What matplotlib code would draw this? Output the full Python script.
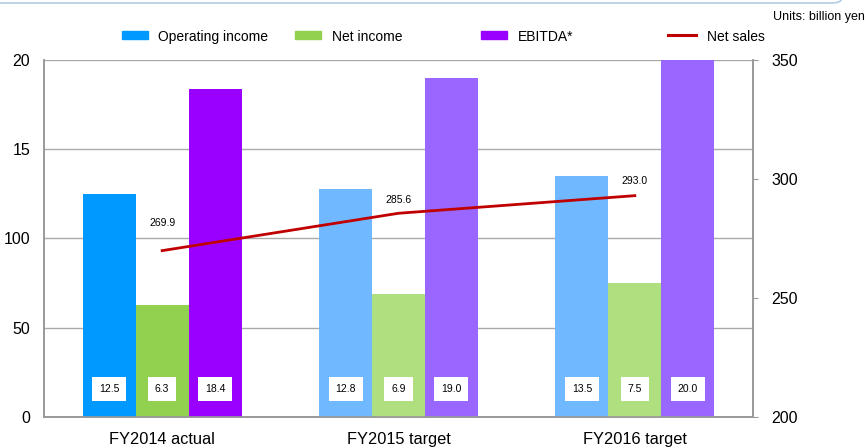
import numpy as np
import matplotlib.pyplot as plt
from matplotlib.patches import Rectangle, FancyBboxPatch
from matplotlib.lines import Line2D

plt.rcParams['font.family'] = ['Liberation Sans', 'DejaVu Sans']

# data
categories = ["FY2014 actual", "FY2015 target", "FY2016 target"]
operating_income = [12.5, 12.8, 13.5]
net_income = [6.3, 6.9, 7.5]
ebitda = [18.4, 19.0, 20.0]
net_sales = [269.9, 285.6, 293.0]
left_ticks = [0, 5, 10, 15, 20]
left_tick_labels = ["0", "50", "100", "15", "20"]
right_ticks = [200, 250, 300, 350]

# actual year is saturated, targets are lighter
op_colors = ["#0099FF", "#70B8FF", "#70B8FF"]
net_colors = ["#92D050", "#B0DF80", "#B0DF80"]
eb_colors = ["#9900FF", "#9966FF", "#9966FF"]
grey = "#999999"

fig = plt.figure(figsize=(8.66, 4.48), dpi=100)

# faint frame edge at the very top of the slide
fig.add_artist(FancyBboxPatch((-20/866, 1 - 3/448), 862/866, 40/448,
                              boxstyle="round,pad=0,rounding_size=0.012", fc='none',
                              ec="#B4CCE4", lw=1.2, transform=fig.transFigure))

ax = fig.add_axes([44/866, 31/448, 709/866, 357/448])
ax2 = ax.twinx()
ax.set_zorder(2)
ax2.set_zorder(1)
ax.patch.set_visible(False)

x = np.arange(len(categories))
w = 0.224

ax.grid(axis='y', color="#aaaaaa", linewidth=1.0, zorder=0)
ax.set_axisbelow(True)

series = [(operating_income, op_colors, -w), (net_income, net_colors, 0), (ebitda, eb_colors, w)]
for vals, cols, off in series:
    ax.bar(x + off, vals, width=w, color=cols, zorder=2)
    for xi, v in zip(x + off, vals):
        ax.text(xi, 1.57, f"{v:.1f}", ha='center', va='center', fontsize=7.5, zorder=3,
                bbox=dict(boxstyle='square,pad=0.65', fc='white', ec='none'))

# net sales line on right axis, drawn above the bars
ax.set_xlim(-0.5, 2.5)
ax.set_ylim(0, 20)
ax2.set_ylim(200, 350)
ax.plot(x, [(s - 200) / 150 * 20 for s in net_sales], color="#C00000", lw=2.0, zorder=4)
label_dy = [1.55, 0.73, 0.82]
for xi, s, dy in zip(x, net_sales, label_dy):
    ax.text(xi, (s - 200) / 150 * 20 + dy, f"{s:.1f}", ha='center', va='center', fontsize=7.5, zorder=5)

ax.set_yticks(left_ticks)
ax.set_yticklabels(left_tick_labels, fontsize=11.5)
ax.tick_params(axis='y', length=0, pad=10)
ax.set_xticks(x)
ax.set_xticklabels(categories, fontsize=11.8)
ax.tick_params(axis='x', length=0, pad=11)

ax2.set_yticks(right_ticks)
ax2.tick_params(axis='y', labelsize=11.5, length=3.5, color=grey, pad=10)

for a in (ax, ax2):
    for side in ['left', 'right', 'bottom']:
        a.spines[side].set_color(grey)
        a.spines[side].set_linewidth(1.2)
    a.spines['top'].set_visible(False)

# legend drawn by hand to match uneven spacing
legend_items = [("Operating income", "#0099FF", 122, 158),
                ("Net income", "#92D050", 295, 332),
                ("EBITDA*", "#9900FF", 481, 518)]
for label, col, px, tx in legend_items:
    fig.add_artist(Rectangle((px/866, 1 - 39/448), 26/866, 8/448, color=col, transform=fig.transFigure))
    fig.text(tx/866, 1 - 37/448, label, fontsize=10, va='center', ha='left')
fig.add_artist(Line2D([668/866, 696/866], [1 - 35/448] * 2, color="#C00000", lw=2.2, transform=fig.transFigure))
fig.text(707/866, 1 - 37/448, "Net sales", fontsize=10, va='center', ha='left')
fig.text(865/866, 1 - 17/448, "Units: billion yen", fontsize=9, va='center', ha='right')

fig.savefig("out.png", dpi=100)
